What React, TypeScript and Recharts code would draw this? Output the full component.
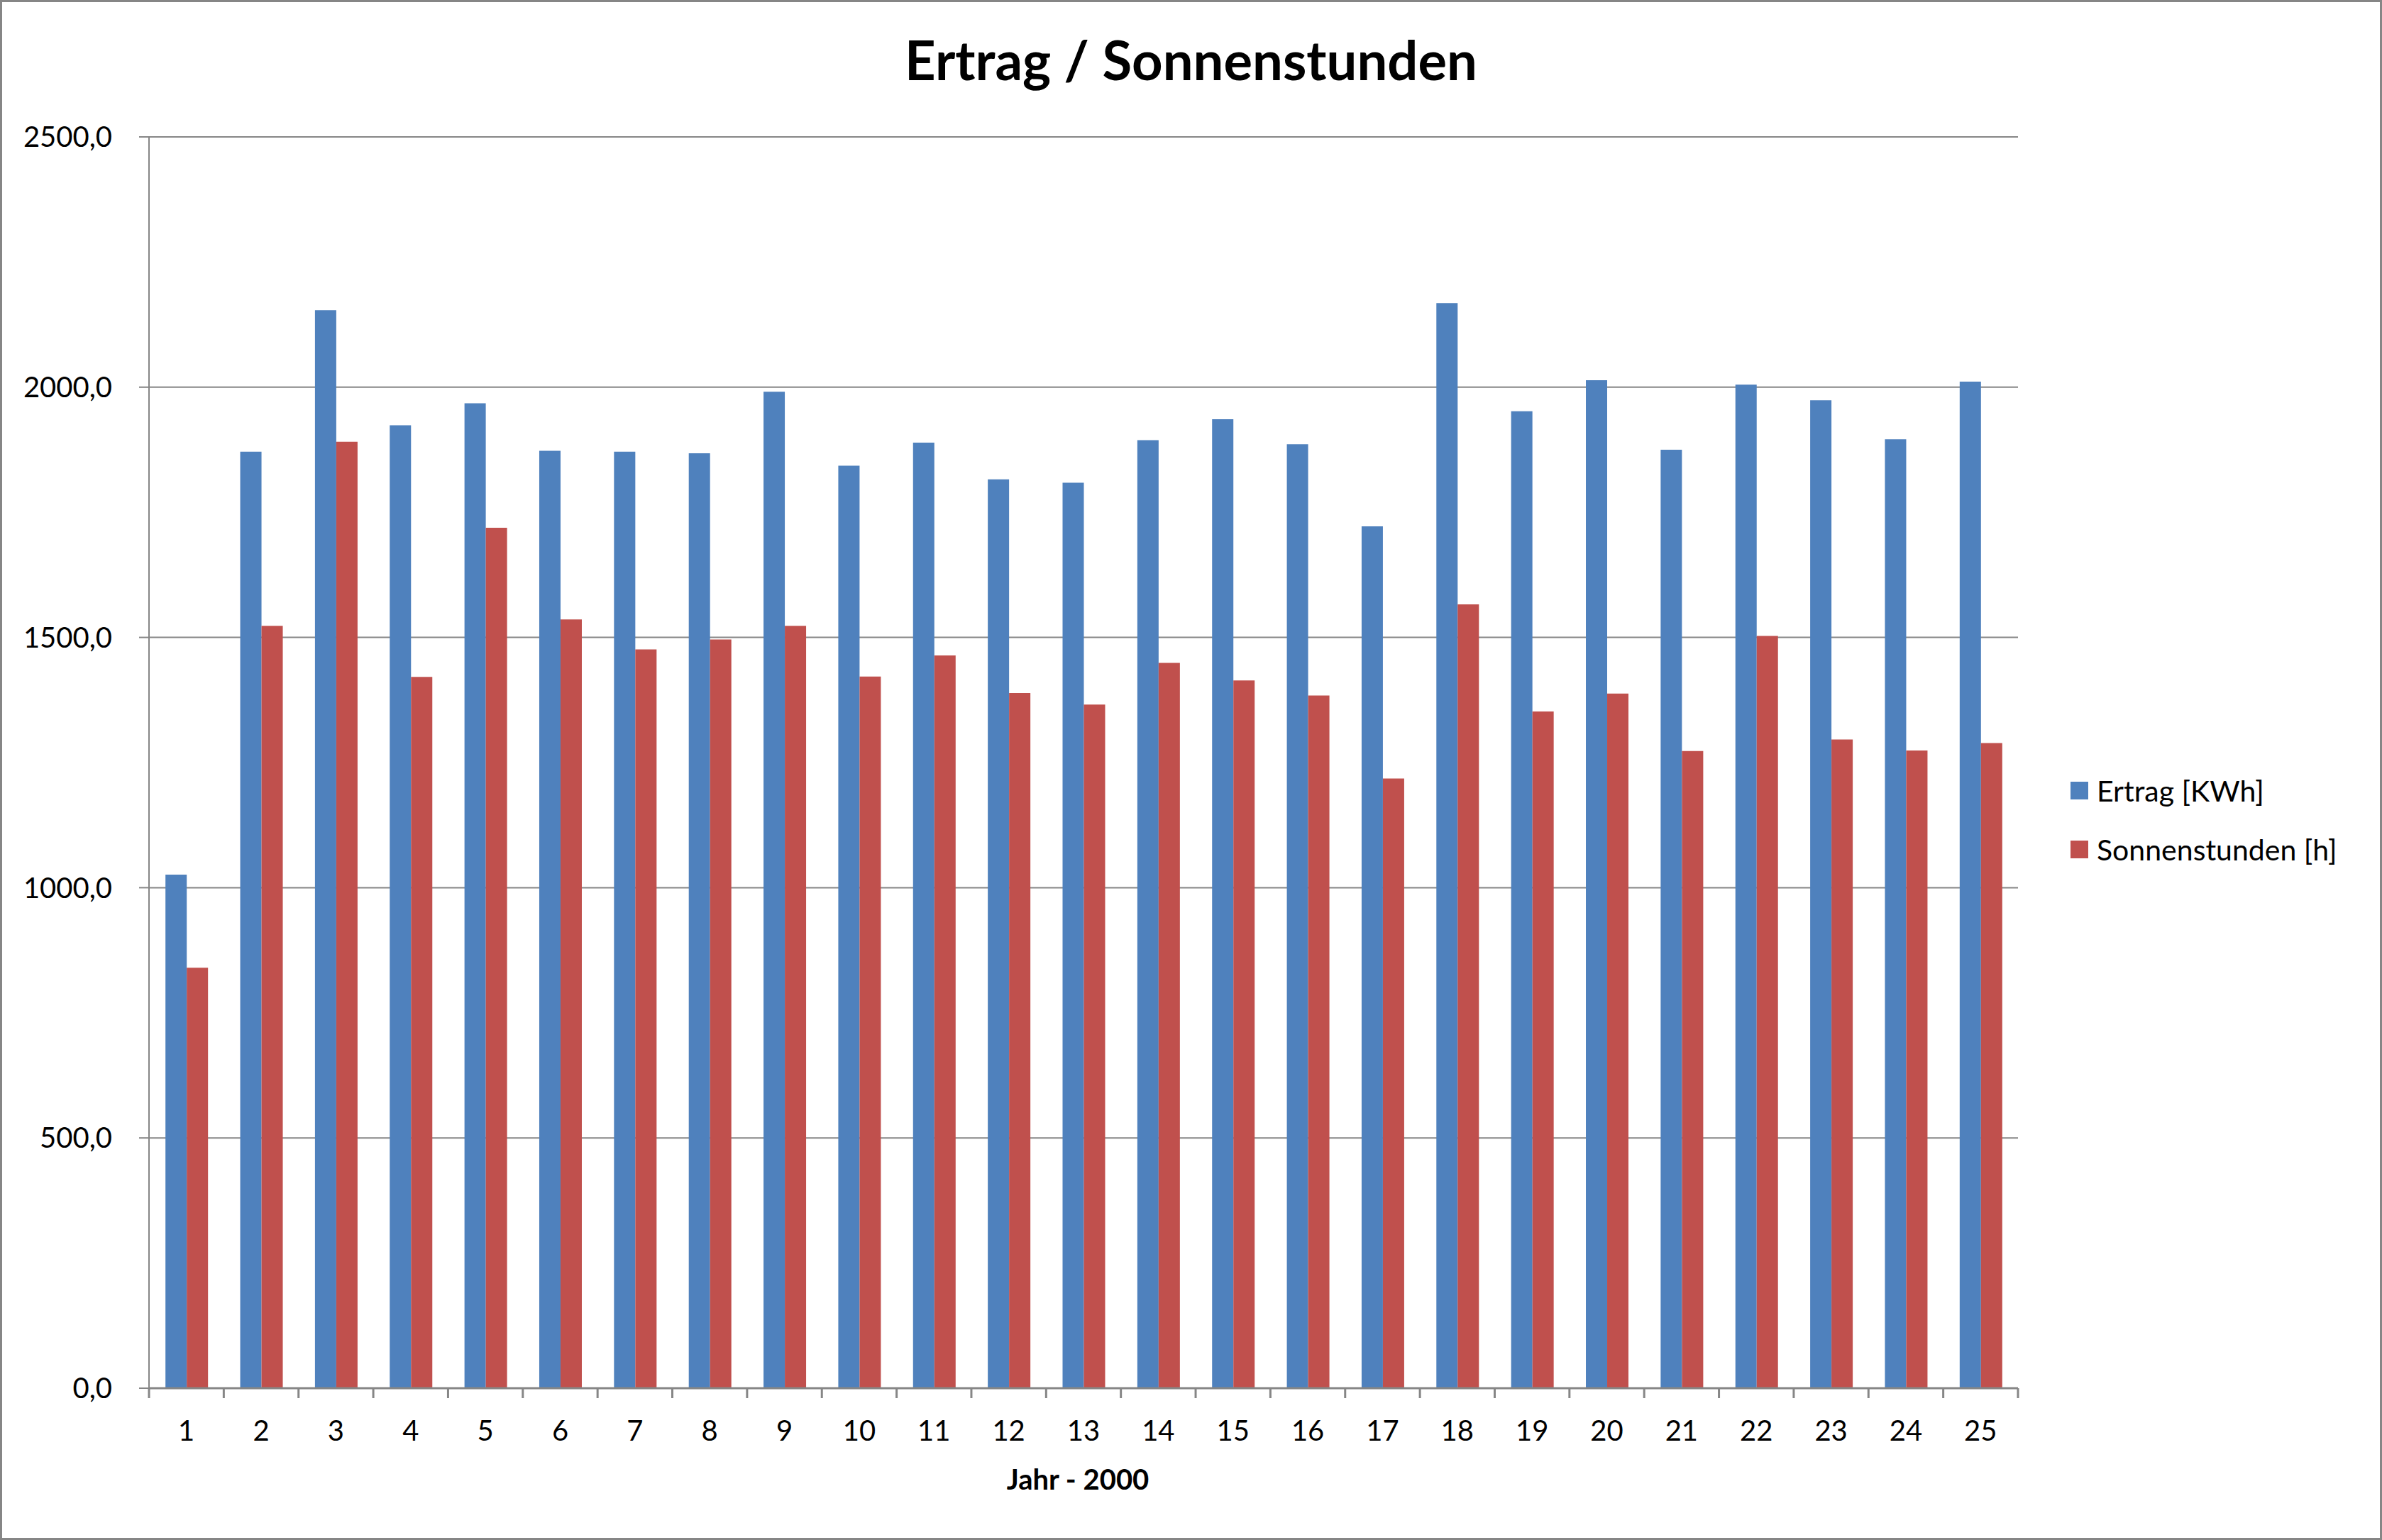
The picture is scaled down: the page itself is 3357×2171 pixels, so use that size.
import React from "react";
import {
  BarChart,
  Bar,
  XAxis,
  YAxis,
  CartesianGrid,
  Legend,
  Label,
} from "recharts";

const years = [
  "1", "2", "3", "4", "5", "6", "7", "8", "9", "10", "11", "12", "13",
  "14", "15", "16", "17", "18", "19", "20", "21", "22", "23", "24", "25",
];
const ertrag = [
  1026, 1871, 2154, 1924, 1968, 1873, 1871, 1868, 1991, 1843, 1889, 1816, 1809,
  1894, 1936, 1886, 1722, 2168, 1952, 2014, 1875, 2005, 1974, 1896, 2011,
];
const sonnenstunden = [
  840, 1523, 1891, 1421, 1719, 1536, 1476, 1496, 1523, 1422, 1464, 1389, 1366,
  1449, 1414, 1384, 1218, 1566, 1352, 1388, 1273, 1503, 1296, 1274, 1289,
];
const yTicks = [0, 500, 1000, 1500, 2000, 2500];

const seriesNames = { ertrag: "Ertrag [KWh]", sonne: "Sonnenstunden [h]" };

const data = years.map((year, i) => ({
  year,
  ertrag: ertrag[i],
  sonne: sonnenstunden[i],
}));

const W = 3357;
const H = 2171;
const margin = { top: 193, right: 513, bottom: 84, left: 20 };
const yAxisWidth = 190;
const plotWidth = W - margin.left - yAxisWidth - margin.right;
const band = plotWidth / years.length;

const GRID = "#868686";
const BLUE = "#4F81BD";
const RED = "#C0504D";
const FONT = "Lato, 'Open Sans', sans-serif";

function XTick(props: any) {
  const { x, y, payload, index } = props;
  const left = x - band / 2;
  const right = x + band / 2;
  return (
    <g>
      <line x1={left} y1={y} x2={left} y2={y + 14} stroke={GRID} strokeWidth={3} />
      {index === years.length - 1 && (
        <line x1={right} y1={y} x2={right} y2={y + 14} stroke={GRID} strokeWidth={3} />
      )}
      <text x={x} y={y + 74} textAnchor="middle" fontSize={40} fontFamily={FONT} fill="#000">
        {payload.value}
      </text>
    </g>
  );
}

function LegendBox() {
  const items = [
    { name: seriesNames.ertrag, color: BLUE },
    { name: seriesNames.sonne, color: RED },
  ];
  return (
    <div>
      {items.map((it) => (
        <div
          key={it.name}
          style={{ display: "flex", alignItems: "center", height: 83 }}
        >
          <div style={{ width: 25, height: 25, background: it.color, marginRight: 12 }} />
          <span style={{ fontFamily: FONT, fontSize: 41, color: "#000", lineHeight: 1 }}>
            {it.name}
          </span>
        </div>
      ))}
    </div>
  );
}

export default function App() {
  return (
    <div
      style={{
        position: "absolute",
        left: 0,
        top: 0,
        width: W,
        height: H,
        background: "#fff",
        overflow: "hidden",
      }}
    >
      <BarChart
        width={W}
        height={H}
        data={data}
        margin={margin}
        barCategoryGap="22%"
        barGap={0}
      >
        <CartesianGrid vertical={false} stroke={GRID} strokeWidth={2} />
        <XAxis
          dataKey="year"
          height={130}
          tickLine={false}
          tickSize={0}
          tickMargin={0}
          axisLine={{ stroke: GRID, strokeWidth: 3 }}
          tick={<XTick />}
          interval={0}
        >
          <Label
            content={(p: any) => {
              const vb = p.viewBox;
              return (
                <text
                  x={vb.x + vb.width / 2 - 8}
                  y={vb.y + 143}
                  textAnchor="middle"
                  fontSize={40}
                  fontWeight="bold"
                  fontFamily={FONT}
                  fill="#000"
                >
                  Jahr - 2000
                </text>
              );
            }}
          />
        </XAxis>
        <YAxis
          width={yAxisWidth}
          domain={[0, 2500]}
          ticks={yTicks}
          interval={0}
          tickSize={14}
          tickMargin={38}
          tickLine={{ stroke: GRID, strokeWidth: 2 }}
          axisLine={{ stroke: GRID, strokeWidth: 2 }}
          tick={{ fontSize: 40, fontFamily: FONT, fill: "#000" }}
          tickFormatter={(v: number) => v.toFixed(1).replace(".", ",")}
        />
        <Legend
          layout="vertical"
          align="center"
          verticalAlign="middle"
          content={<LegendBox />}
          wrapperStyle={{ left: 2918, top: 1073, width: 430, height: 170 }}
        />
        <Bar dataKey="ertrag" name={seriesNames.ertrag} fill={BLUE} isAnimationActive={false} />
        <Bar dataKey="sonne" name={seriesNames.sonne} fill={RED} isAnimationActive={false} />
      </BarChart>
      <svg
        width={W}
        height={H}
        style={{ position: "absolute", left: 0, top: 0, pointerEvents: "none" }}
      >
        <text
          x={W / 2}
          y={113}
          textAnchor="middle"
          fontSize={76}
          fontWeight="bold"
          fontFamily={FONT}
          fill="#000"
        >
          Ertrag / Sonnenstunden
        </text>
        <rect x={1.5} y={1.5} width={W - 3} height={H - 3} fill="none" stroke={GRID} strokeWidth={3} />
      </svg>
    </div>
  );
}
